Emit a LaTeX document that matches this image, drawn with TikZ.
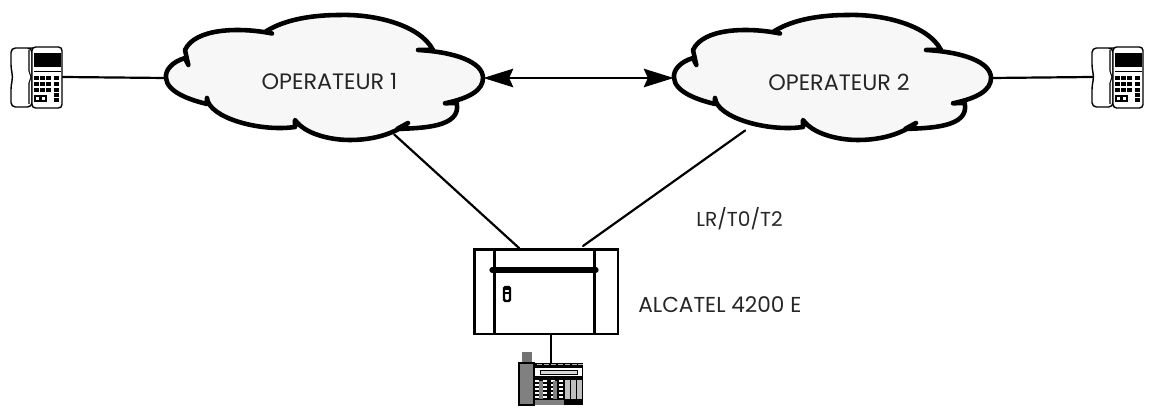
\documentclass[tikz,border=0pt]{standalone}
\usepackage{fontspec}
\setmainfont{Poppins}
\usetikzlibrary{arrows.meta,shapes.geometric}
\definecolor{fondnuage}{RGB}{247,247,247}
\tikzset{
  trait/.style = {line width=1.25pt, line cap=round},
  fleche/.style = {trait, {Stealth[length=17pt,width=10.5pt,inset=2.3pt]}-{Stealth[length=17pt,width=10.5pt,inset=2.3pt]}},
  texte/.style = {inner sep=0pt, font=\fontsize{12.7}{15}\selectfont, text=black!85},
  texte_g/.style = {texte, anchor=west},
  nuage_n/.style = {ellipse, inner sep=0pt, minimum width=6.34cm, minimum height=2.5cm},
  tel_n/.style = {rectangle, inner sep=0pt, minimum width=1.02cm, minimum height=1.2cm},
  armoire/.style = {rectangle, inner sep=0pt, draw=black, line width=1.7pt, minimum width=2.88cm, minimum height=1.7cm},
  poste_n/.style = {rectangle, inner sep=0pt, minimum width=1.28cm, minimum height=0.84cm},
  % nuage, dessine aux coordonnees du premier
  nuage/.pic = {
    \draw[line width=2.6pt, line join=round, fill=fondnuage]
      (185,50) -- (188.3,65) -- (185,58)
      .. controls (172,62) and (165,70) .. (166,78)
      .. controls (167,92) and (190,100) .. (207,104) -- (207,98)
      .. controls (209,118) and (260,132) .. (295,127) -- (295,120)
      .. controls (305,134) and (330,140) .. (350,140)
      .. controls (375,140) and (395,133) .. (408,123) -- (397,129)
      .. controls (420,128) and (462,128) .. (456.7,103) -- (445,103.3)
      .. controls (470,98) and (483,90) .. (483,78)
      .. controls (483,62) and (455,52) .. (418,50) -- (433,50)
      .. controls (420,25) and (375,14) .. (340,15)
      .. controls (305,15) and (280,22) .. (265,32) -- (272,33.5)
      .. controls (240,27) and (195,28) .. cycle;
  },
  % telephone
  telephone/.pic = {
    \draw[line width=0.8pt, rounded corners=2.5pt, fill=white]
      (-26,-29) -- (-8,-29) -- (-5,-29) -- (-5,30) -- (-26,30) -- (-26,8) -- (-24,0) -- (-26,-8) -- cycle;
    \draw[line width=0.8pt, rounded corners=2pt, fill=white] (-5,-30) rectangle (25,31);
    \draw[line width=0.6pt] (-8,-27) -- (-8,-6) -- (-6,0) -- (-8,6) -- (-8,27);
    \fill (-3,-24) rectangle (24,-10);
    \draw[line width=0.4pt] (-3,-6) -- (24,-6);
    \foreach \y in {-1,5,11} {
      \foreach \x in {-3,3,9}
        \fill (\x,\y) rectangle +(4.5,4);
      \fill (17,\y) rectangle +(5,4);
    }
    \fill (17,16) rectangle +(5,4);
    \fill (-3,18) rectangle (10,25);
    \fill[white] (-1,20) rectangle +(3,3);
    \fill[white] (5,20) rectangle +(3,3);
    \fill (17,21) rectangle +(5,4);
  },
  % poste operateur
  poste/.pic = {
    \fill[black!55] (-29,-32) rectangle (-19,-21);
    \draw[line width=0.6pt, fill=black!50] (-32,-21) rectangle (-17,21);
    \fill (-17,-21) rectangle (32,21);
    \fill[white] (-16,-16) rectangle (31,-8);
    \draw[line width=0.5pt, fill=black!15] (-11,-14) rectangle (26,-10);
    \foreach \x in {-14,-7,0,7,14,21,27}
      \fill[black!30] (\x,-20.5) rectangle +(4.5,1.5);
    \foreach \x in {-16,-8,0,8}
      \foreach \y in {-4,0,4,8,12}
        \fill[white] (\x,\y) rectangle +(3.5,2);
    \fill[black!50] (-12,-3) rectangle (-8,15);
    \fill[black!50] (2,-3) rectangle (6,15);
    \foreach \x in {14,20,26}
      \fill[black!25] (\x,-4) rectangle +(4.5,19);
    \fill[black!50] (-16,16) rectangle (13,21);
  },
}
\begin{document}
\begin{tikzpicture}[x=0.02cm,y=-0.02cm]
  \useasboundingbox (0,0) rectangle (1151,415);
  % les nuages
  \pic at (0,0) {nuage};
  \pic at (508,0) {nuage};
  \node[nuage_n] (n1) at (324.5,78) {};
  \node[nuage_n] (n2) at (832.5,78) {};
  \node[texte] (op1) at (329.5,82) {OPERATEUR 1};
  \node[texte] (op2) at (839,82) {OPERATEUR 2};

  \node[tel_n] (t1) at (37,77) {};
  \node[tel_n] (t2) at (1118,77) {};
  \pic at (t1) {telephone};
  \pic at (t2) {telephone};

  \node[armoire] (a4200) at (546,291.5) {};
  \node[poste_n] (p1) at (551,384) {};
  \pic at (p1) {poste};
  \coordinate (c1) at (519,248);
  \coordinate (c2) at (583,246);
  \coordinate (b1) at (492,270);
  \coordinate (b2) at (596,270);

  \draw[line width=1.7pt] (494,249) -- (494,334);
  \draw[line width=1.7pt] (594,249) -- (594,334);
  \draw[line width=3pt, line cap=round] (b1) -- (b2);
  \draw[line width=1.4pt, rounded corners=0.8pt, fill=white] (504,287) rectangle (510,301);
  \fill (504,287) rectangle (510,290);
  \fill (504,292) rectangle (510,294);

  \node[texte_g, font=\fontsize{11.5}{14}\selectfont] (lr) at (696,219) {LR/T0/T2};
  \node[texte_g, font=\fontsize{12.3}{15}\selectfont] (alc) at (638,305) {ALCATEL 4200 E};

  \path[trait] (t1.east) edge (n1.west);
  \path[trait] (n2.east) edge (t2.west);
  \path[fleche] (n1.east) edge (n2.west);
  \path[trait] (n1.-39) edge (c1);
  \path[trait] (n2.-149) edge (c2);
  \path[trait] (a4200.south -| p1) edge (p1.north);
\end{tikzpicture}
\end{document}
